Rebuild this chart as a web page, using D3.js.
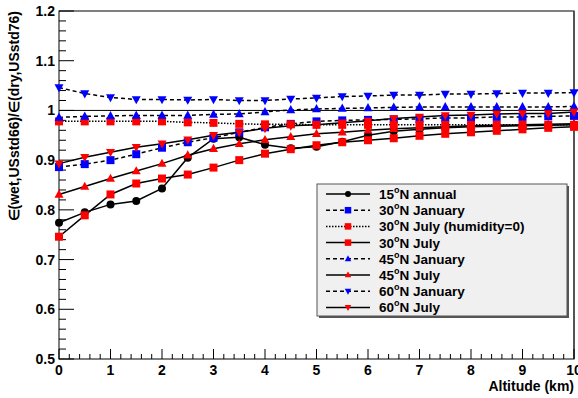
<!DOCTYPE html>
<html><head><meta charset="utf-8">
<script src="https://cdn.jsdelivr.net/npm/d3@7"></script>
<style>body{margin:0;background:#fff}svg{display:block}</style>
</head><body>
<script>
const altitudes = [0,0.5,1,1.5,2,2.5,3,3.5,4,4.5,5,5.5,6,6.5,7,7.5,8,8.5,9,9.5,10];
const n15annual = [0.774,0.795,0.811,0.818,0.843,0.905,0.943,0.946,0.931,0.924,0.927,0.937,0.950,0.958,0.962,0.965,0.967,0.968,0.969,0.970,0.971];
const n30jan    = [0.886,0.892,0.900,0.912,0.925,0.936,0.945,0.956,0.966,0.973,0.978,0.980,0.981,0.982,0.983,0.985,0.985,0.987,0.987,0.988,0.989];
const n30julDry = [0.978,0.978,0.978,0.978,0.978,0.976,0.975,0.973,0.972,0.972,0.971,0.971,0.971,0.971,0.971,0.971,0.971,0.971,0.971,0.971,0.971];
const n30jul    = [0.746,0.789,0.831,0.853,0.863,0.871,0.885,0.900,0.913,0.922,0.930,0.936,0.940,0.944,0.949,0.953,0.956,0.959,0.962,0.965,0.967];
const n45jan    = [0.986,0.988,0.989,0.990,0.990,0.990,0.992,0.993,0.997,1.001,1.003,1.004,1.005,1.006,1.007,1.007,1.007,1.007,1.007,1.007,1.008];
const n45jul    = [0.831,0.847,0.863,0.878,0.893,0.910,0.923,0.933,0.941,0.947,0.953,0.956,0.960,0.963,0.965,0.967,0.969,0.970,0.971,0.972,0.973];
const n60jan    = [1.046,1.034,1.026,1.022,1.022,1.021,1.022,1.020,1.020,1.023,1.025,1.028,1.029,1.031,1.031,1.033,1.033,1.034,1.035,1.035,1.036];
const n60jul    = [0.893,0.906,0.916,0.926,0.933,0.941,0.950,0.956,0.964,0.969,0.971,0.975,0.979,0.984,0.987,0.990,0.991,0.993,0.994,0.994,0.997];
const xTicks = [0,1,2,3,4,5,6,7,8,9,10];
const yTicks = [0.5,0.6,0.7,0.8,0.9,1,1.1,1.2];
const yTickLabels = ["0.5","0.6","0.7","0.8","0.9","1","1.1","1.2"];

const series = [
  {name:"15", rest:"N annual", vals:n15annual, color:"#000", marker:"circle", dash:null},
  {name:"30", rest:"N January", vals:n30jan, color:"#0000ff", marker:"square", dash:"4,3"},
  {name:"30", rest:"N July (humidity=0)", vals:n30julDry, color:"#ff0000", marker:"square", dash:"1.5,1.5"},
  {name:"30", rest:"N July", vals:n30jul, color:"#ff0000", marker:"square", dash:null},
  {name:"45", rest:"N January", vals:n45jan, color:"#0000ff", marker:"up", dash:"4,3"},
  {name:"45", rest:"N July", vals:n45jul, color:"#ff0000", marker:"up", dash:null},
  {name:"60", rest:"N January", vals:n60jan, color:"#0000ff", marker:"down", dash:"4,3"},
  {name:"60", rest:"N July", vals:n60jul, color:"#ff0000", marker:"down", dash:null}
];

const W=578,H=398;
const m={left:59,right:574,top:11,bottom:359};
const svg=d3.select("body").append("svg").attr("width",W).attr("height",H);
const font="'Liberation Sans', Arial, Helvetica, sans-serif";
const x=d3.scaleLinear().domain([0,10]).range([m.left,m.right]);
const y=d3.scaleLinear().domain([0.5,1.2]).range([m.bottom,m.top]);

// frame
svg.append("rect").attr("x",m.left).attr("y",m.top).attr("width",m.right-m.left).attr("height",m.bottom-m.top)
  .attr("fill","none").attr("stroke","#000").attr("stroke-width",1);
svg.append("line").attr("x1",m.right).attr("x2",m.right).attr("y1",m.top).attr("y2",m.bottom)
  .attr("stroke","#555").attr("stroke-width",2);

// x axis ticks
const xMinor=d3.range(0,10.001,0.2);
svg.append("g").selectAll("line").data(xMinor).join("line")
  .attr("x1",d=>x(d)).attr("x2",d=>x(d)).attr("y1",m.bottom)
  .attr("y2",d=>Math.abs(d-Math.round(d))<1e-6? m.bottom-10 : m.bottom-5)
  .attr("stroke","#000").attr("stroke-width",1);
svg.append("g").selectAll("text").data(xTicks).join("text")
  .attr("x",d=>x(d)).attr("y",375).attr("text-anchor","middle")
  .attr("font-family",font).attr("font-weight","bold").attr("font-size",14).text(d=>d);

// y axis ticks
const yMinor=d3.range(0.5,1.2001,0.02);
svg.append("g").selectAll("line").data(yMinor).join("line")
  .attr("y1",d=>y(d)).attr("y2",d=>y(d)).attr("x1",m.left)
  .attr("x2",d=>Math.abs(d*10-Math.round(d*10))<1e-6? m.left+15 : m.left+7)
  .attr("stroke","#000").attr("stroke-width",1);
svg.append("g").selectAll("text").data(yTicks).join("text")
  .attr("x",55).attr("y",d=>y(d)+5).attr("text-anchor","end")
  .attr("font-family",font).attr("font-weight","bold").attr("font-size",14)
  .text((d,i)=>yTickLabels[i]);

// axis titles
svg.append("text").attr("x",m.right).attr("y",391).attr("text-anchor","end")
  .attr("font-family",font).attr("font-weight","bold").attr("font-size",14).text("Altitude (km)");
svg.append("text").attr("transform","translate(19,11) rotate(-90)").attr("text-anchor","end")
  .attr("font-family",font).attr("font-weight","bold").attr("font-size",14)
  .text("\u2208(wet,USstd66)/\u2208(dry,USstd76)");

// reference line at 1
svg.append("line").attr("x1",x(0)).attr("x2",x(10)).attr("y1",y(1)).attr("y2",y(1))
  .attr("stroke","#000").attr("stroke-width",1);

function markerPath(type,s){
  if(type==="circle") return d3.symbol(d3.symbolCircle, Math.PI*(s/2)*(s/2))();
  if(type==="square") return `M${-s/2},${-s/2}h${s}v${s}h${-s}Z`;
  const h=s*0.9, w=s/2;
  if(type==="up") return `M0,${-h*0.6}L${w},${h*0.4}L${-w},${h*0.4}Z`;
  return `M0,${h*0.6}L${w},${-h*0.4}L${-w},${-h*0.4}Z`;
}
function msize(t){return t==="circle"?8:(t==="square"?8:9);}

const line=d3.line().x((d,i)=>x(altitudes[i])).y(d=>y(d));
const plot=svg.append("g");
series.forEach(s=>{
  plot.append("path").attr("d",line(s.vals)).attr("fill","none").attr("stroke","#000")
    .attr("stroke-width",1.5).attr("stroke-dasharray",s.dash);
});
series.forEach(s=>{
  plot.append("g").selectAll("path").data(s.vals).join("path")
    .attr("transform",(d,i)=>`translate(${x(altitudes[i])},${y(d)})`)
    .attr("d",markerPath(s.marker,msize(s.marker))).attr("fill",s.color);
});

// legend
const lg=svg.append("g");
lg.append("rect").attr("x",319).attr("y",186).attr("width",250).attr("height",132).attr("fill","#555");
lg.append("rect").attr("x",317).attr("y",184).attr("width",250).attr("height",132)
  .attr("fill","#f0f0f0").attr("stroke","#555").attr("stroke-width",1);
series.forEach((s,i)=>{
  const cy=194+i*16.2;
  lg.append("line").attr("x1",326).attr("x2",370).attr("y1",cy).attr("y2",cy)
    .attr("stroke","#000").attr("stroke-width",1.5).attr("stroke-dasharray",s.dash);
  lg.append("path").attr("transform",`translate(348,${cy})`)
    .attr("d",markerPath(s.marker,s.marker==="circle"?6:6.5)).attr("fill",s.color);
  const t=lg.append("text").attr("x",379).attr("y",cy+5)
    .attr("font-family",font).attr("font-weight","bold").attr("font-size",13.5);
  t.append("tspan").text(s.name);
  t.append("tspan").attr("font-size",9).attr("dy",-6).text("o");
  t.append("tspan").attr("dy",6).text(s.rest);
});
</script>
</body></html>
